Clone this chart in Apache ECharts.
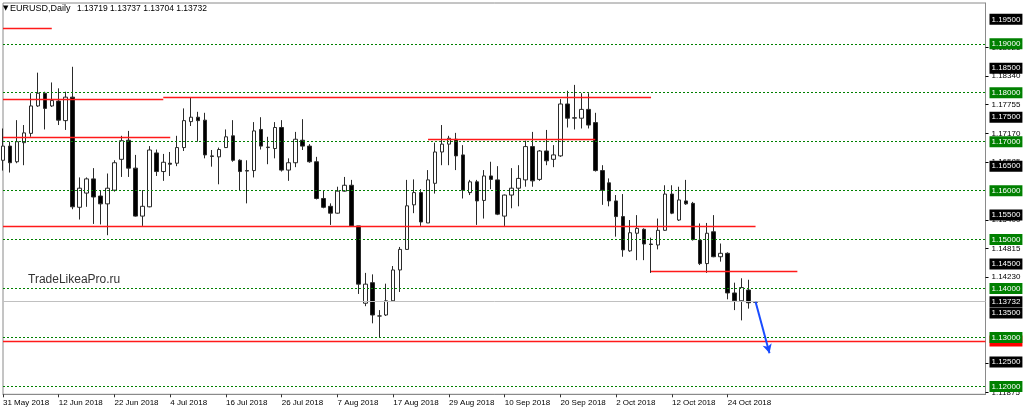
<!DOCTYPE html>
<html>
<head>
<meta charset="utf-8">
<script src="https://cdn.jsdelivr.net/npm/echarts@6/dist/echarts.min.js"></script>
<style>
html,body{margin:0;padding:0;background:#fff;}
#c{width:1024px;height:413px;}
</style>
</head>
<body>
<div id="c"></div>
<script>
// ---- data (EURUSD daily, 31 May 2018 .. 30 Oct 2018) ----
const opens = [1.1662,1.1691,1.1659,1.1698,1.1717,1.1773,1.1799,1.1773,1.1783,1.1743,
1.1791,1.1566,1.1595,1.1624,1.1589,1.1573,1.1601,1.1664,1.1703,1.1646,
1.1548,1.1567,1.1677,1.1639,1.1656,1.1656,1.1688,1.1741,1.1750,1.1744,
1.1671,1.1669,1.1688,1.1712,1.1662,1.1641,1.1641,1.1725,1.1688,1.1686,
1.1729,1.1642,1.1657,1.1703,1.1691,1.1659,1.1584,1.1568,1.1554,1.1599,
1.1611,1.1528,1.1370,1.1412,1.1344,1.1346,1.1375,1.1438,1.1480,1.1571,
1.1596,1.1534,1.1615,1.1679,1.1695,1.1705,1.1673,1.1596,1.1618,1.1580,
1.1630,1.1622,1.1548,1.1591,1.1605,1.1622,1.1690,1.1623,1.1681,1.1664,
1.1671,1.1777,1.1748,1.1748,1.1766,1.1739,1.1641,1.1616,1.1579,1.1547,
1.1477,1.1513,1.1521,1.1491,1.1489,1.1519,1.1593,1.1540,1.1579,1.1574,
1.1499,1.1451,1.1516,1.1465,1.1472,1.1391,1.1375,1.1397,1.13719];
const highs = [1.1727,1.1700,1.1744,1.1734,1.1799,1.1841,1.1802,1.1821,1.1809,1.1802,
1.1853,1.1627,1.1627,1.1646,1.1601,1.1635,1.1662,1.1712,1.1722,1.1673,
1.1601,1.1691,1.1684,1.1675,1.1679,1.1712,1.1768,1.1791,1.1761,1.1759,
1.1683,1.1688,1.1725,1.1744,1.1664,1.1662,1.1740,1.1750,1.1710,1.1740,
1.1744,1.1666,1.1720,1.1746,1.1695,1.1669,1.1600,1.1574,1.1608,1.1628,
1.1622,1.1528,1.1432,1.1429,1.1356,1.1410,1.1446,1.1485,1.1622,1.1623,
1.1603,1.1642,1.1698,1.1734,1.1712,1.1718,1.1693,1.1622,1.1622,1.1642,
1.1659,1.1650,1.1592,1.1646,1.1652,1.1702,1.1720,1.1683,1.1724,1.1693,
1.1787,1.1804,1.1816,1.1799,1.1799,1.1759,1.1652,1.1625,1.1591,1.1593,
1.1540,1.1550,1.1523,1.1504,1.1543,1.1611,1.1611,1.1608,1.1622,1.1577,
1.1533,1.1534,1.1550,1.1492,1.1474,1.1412,1.1421,1.1418,1.13737];
const lows = [1.1641,1.1637,1.1656,1.1652,1.1710,1.1771,1.1725,1.1771,1.1734,1.1724,
1.1562,1.1541,1.1567,1.1532,1.1531,1.1509,1.1598,1.1628,1.1628,1.1547,
1.1528,1.1566,1.1630,1.1620,1.1630,1.1650,1.1681,1.1732,1.1700,1.1666,
1.1649,1.1613,1.1687,1.1659,1.1601,1.1574,1.1627,1.1684,1.1654,1.1666,
1.1639,1.1620,1.1648,1.1683,1.1657,1.1582,1.1564,1.1530,1.1553,1.1598,
1.1526,1.1389,1.1364,1.1329,1.1301,1.1344,1.1374,1.1393,1.1479,1.1554,
1.1528,1.1534,1.1594,1.1652,1.1652,1.1642,1.1584,1.1591,1.1530,1.1543,
1.1603,1.1550,1.1528,1.1564,1.1568,1.1608,1.1608,1.1620,1.1652,1.1648,
1.1669,1.1729,1.1725,1.1727,1.1727,1.1639,1.1571,1.1568,1.1506,1.1465,
1.1475,1.1458,1.1458,1.1432,1.1480,1.1518,1.1552,1.1538,1.1571,1.1498,
1.1448,1.1432,1.1464,1.1455,1.1378,1.1356,1.1335,1.1359,1.13704];
const closes = [1.1691,1.1657,1.1700,1.1718,1.1773,1.1799,1.1768,1.1784,1.1744,1.1791,
1.1567,1.1605,1.1624,1.1587,1.1573,1.1605,1.1657,1.1702,1.1646,1.1548,
1.1568,1.1683,1.1639,1.1658,1.1654,1.1688,1.1743,1.1750,1.1743,1.1673,
1.1670,1.1684,1.1710,1.1662,1.1639,1.1640,1.1722,1.1691,1.1689,1.1729,
1.1642,1.1657,1.1705,1.1691,1.1659,1.1584,1.1566,1.1554,1.1599,1.1611,
1.1528,1.1409,1.1409,1.1346,1.1344,1.1375,1.1438,1.1480,1.1569,1.1596,
1.1536,1.1622,1.1679,1.1695,1.1707,1.1671,1.1601,1.1618,1.1579,1.1630,
1.1623,1.1552,1.1591,1.1605,1.1625,1.1690,1.1620,1.1681,1.1661,1.1673,
1.1777,1.1748,1.1749,1.1766,1.1734,1.1641,1.1601,1.1579,1.1547,1.1479,
1.1514,1.1523,1.1491,1.1490,1.1519,1.1593,1.1554,1.1581,1.1573,1.1500,
1.1451,1.1513,1.1465,1.1472,1.1391,1.1375,1.1402,1.1371,1.13732];

// horizontal levels
const greenLevels = [1.19,1.18,1.17,1.16,1.15,1.14,1.13,1.12];
const blackLabelLevels = [1.195,1.185,1.175,1.165,1.155,1.145,1.135,1.125];
const redFullLevel = 1.1293;
const bidLevel = 1.13732;
// [fromIndex, toIndex, price]
const redSegments = [[0,7,1.1932],[0,23,1.1787],[23,93,1.1790],[0,24,1.1709],[61,85,1.1705],[0,108,1.1528],[93,114,1.1435]];
// arrow: [index, price] start and end
const arrowStart = [108,1.13732];
const arrowEnd = [110,1.1268];
// price scale tick labels
const scaleLabels = [1.18925,1.1834,1.17755,1.1717,1.16585,1.154,1.14815,1.1423,1.12475,1.11875];
const yMin = 1.1184, yMax = 1.19833;

// categories: trading days from 31 May 2018 (plus empty shift space)
const MONTHS = ['Jan','Feb','Mar','Apr','May','Jun','Jul','Aug','Sep','Oct','Nov','Dec'];
const categories = (function(){
  const out=[]; const d=new Date(Date.UTC(2018,4,31));
  while(out.length<142){
    const wd=d.getUTCDay();
    if(wd!==0&&wd!==6) out.push(d.getUTCDate()+' '+MONTHS[d.getUTCMonth()]+' '+d.getUTCFullYear());
    d.setUTCDate(d.getUTCDate()+1);
  }
  return out;
})();
const lastIdx = opens.length-1;

// ---- build ----
const candleData = opens.map((o,i)=>[o,closes[i],lows[i],highs[i]]);
const FONT = 'Liberation Sans';
function boxLabel(bg){
  return {show:true,position:'end',distance:4,formatter:p=>Number(p.value).toFixed(5),
    color:'#fff',backgroundColor:bg,fontSize:8,fontFamily:FONT,padding:[2,2,1,2],lineHeight:8};
}
function markSeries(data,lineStyle,label,extra){
  return Object.assign({type:'line',data:[],silent:true,symbol:'none',
    markLine:{silent:true,precision:6,symbol:['none','none'],animation:false,
      lineStyle:lineStyle,label:label,emphasis:{disabled:true},data:data}},extra||{});
}
const showIdx = i => (i%8===0 && i<=lastIdx-4);
const RED = {color:'#ff1a1a',width:1.4,type:'solid'};

const chart = echarts.init(document.getElementById('c'),null,{renderer:'canvas'});
chart.setOption({
  animation:false,
  backgroundColor:'#fff',
  grid:{left:3,right:38.5,top:3,bottom:18.7,show:true,borderColor:'#8a8a8a',borderWidth:1,backgroundColor:'#fff'},
  xAxis:{type:'category',data:categories,boundaryGap:false,
    axisLine:{show:true,lineStyle:{color:'#8a8a8a'}},
    axisTick:{show:true,interval:(i)=>showIdx(i),length:3,lineStyle:{color:'#333'}},
    axisLabel:{interval:(i)=>showIdx(i),align:'left',fontSize:8,fontFamily:FONT,color:'#000',margin:4},
    splitLine:{show:false}},
  yAxis:{type:'value',position:'right',min:yMin,max:yMax,scale:true,
    axisLine:{show:true,lineStyle:{color:'#8a8a8a'}},
    axisTick:{show:true,customValues:scaleLabels,length:3,lineStyle:{color:'#000'}},
    axisLabel:{show:true,customValues:scaleLabels,formatter:v=>Number(v).toFixed(5),fontSize:8,fontFamily:FONT,color:'#000',margin:6},
    splitLine:{show:false}},
  graphic:[
    {type:'text',left:3,top:5,style:{text:'▼',font:'7px "DejaVu Sans"',fill:'#000'}},
    {type:'text',left:10,top:4,style:{text:'EURUSD,Daily',font:'9px "Liberation Sans"',fill:'#000'}},
    {type:'text',left:77,top:4.5,style:{text:[opens[lastIdx],highs[lastIdx],lows[lastIdx],closes[lastIdx]].map(v=>v.toFixed(5)).join(' '),font:'8.5px "Liberation Sans"',fill:'#000'}},
    {type:'text',left:28,top:274,style:{text:'TradeLikeaPro.ru',font:'12px "Liberation Sans"',fill:'#333'}}
  ],
  series:[
    markSeries(blackLabelLevels.map(v=>({yAxis:v})),{color:'rgba(0,0,0,0)',width:1,type:'solid'},boxLabel('#000')),
    markSeries(redSegments.map(s=>[{coord:[s[0],s[2]]},{coord:[s[1],s[2]]}]),RED,{show:false}),
    markSeries([{yAxis:redFullLevel}],RED,boxLabel('#ff0000')),
    markSeries(greenLevels.map(v=>({yAxis:v})),{color:'#008000',width:1,type:[2,2]},boxLabel('#008000')),
    markSeries([{yAxis:bidLevel}],{color:'#c0c0c0',width:1,type:'solid'},boxLabel('#000')),
    {
      type:'candlestick',
      data:candleData,
      barWidth:4,
      clip:true,
      itemStyle:{color:'#ffffff',color0:'#000000',borderColor:'#2a2a2a',borderColor0:'#2a2a2a',borderWidth:1},
      emphasis:{disabled:true}
    },
    markSeries([[{coord:arrowStart},{coord:arrowEnd}]],{color:'#1a4cff',width:2,type:'solid'},{show:false},
      {markLine:{silent:true,precision:6,symbol:['none','arrow'],symbolSize:[7,9],animation:false,
        lineStyle:{color:'#1a4cff',width:2,type:'solid'},label:{show:false},emphasis:{disabled:true},
        data:[[{coord:arrowStart},{coord:arrowEnd}]]}})
  ]
});
</script>
</body>
</html>
